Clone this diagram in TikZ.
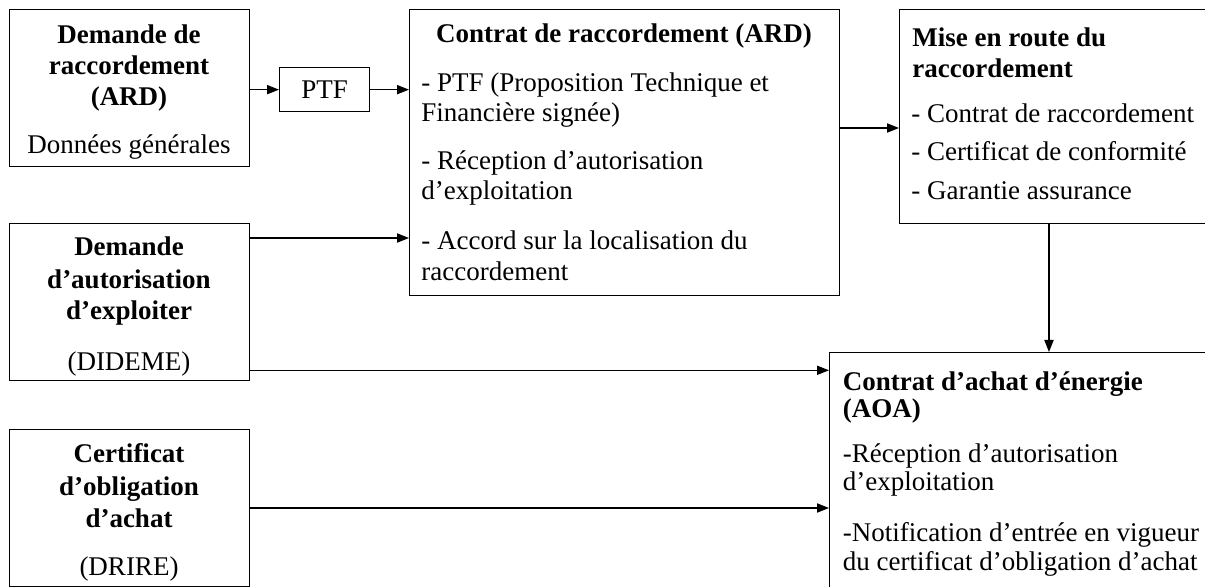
\documentclass[tikz,border=0pt]{standalone}
\usepackage{fontspec}
\setmainfont{Liberation Serif}
\usetikzlibrary{arrows.meta,calc}
\begin{document}
\begin{tikzpicture}[x=0.5pt,y=-0.5pt,
  box/.style={draw,line width=0.65pt,rectangle,inner sep=0pt,anchor=north west},
  txt/.style={inner sep=0pt,font=\fontsize{13.5pt}{14pt}\selectfont},
  ctxt/.style={txt,anchor=base},
  ltxt/.style={txt,anchor=base west},
  cbold/.style={ctxt,font=\fontsize{13.5pt}{14pt}\selectfont\bfseries},
  lbold/.style={ltxt,font=\fontsize{13.5pt}{14pt}\selectfont\bfseries},
  arr/.style={line width=0.65pt,-{Triangle[length=6pt,width=4.6pt]}}]
\useasboundingbox (0,0) rectangle (1205,587);
\fill[white] (0,0) rectangle (1205,587);
\clip (0,0) rectangle (1205,587);

% boxes
\node[box,minimum width=120pt,minimum height=78.5pt] (b1) at (9,9) {};
\node[box,minimum width=45pt,minimum height=22pt,font=\fontsize{13.5pt}{14pt}\selectfont] (ptf) at (279,67) {PTF};
\node[box,minimum width=215pt,minimum height=143pt] (b2) at (409,9) {};
\node[box,minimum width=158pt,minimum height=107pt] (b3) at (899,9) {};
\node[box,minimum width=120pt,minimum height=78.5pt] (b4) at (9,223) {};
\node[box,minimum width=193pt,minimum height=129pt] (b5) at (829,352) {};
\node[box,minimum width=120pt,minimum height=78.5pt] (b6) at (9,429) {};

% box 1 text
\node[cbold] (t1a) at (129,43.5) {Demande de};
\node[cbold] (t1b) at (129,75) {raccordement};
\node[cbold] (t1c) at (129,106) {(ARD)};
\node[ctxt] (t1d) at (129,154) {Données générales};

% box 2 text
\node[cbold] (t2a) at (624,43) {Contrat de raccordement (ARD)};
\node[ltxt] (t2b) at (421,92) {- PTF (Proposition Technique et};
\node[ltxt] (t2c) at (421,122) {Financière signée)};
\node[ltxt] (t2d) at (421,170) {- Réception d’autorisation};
\node[ltxt] (t2e) at (421,200) {d’exploitation};
\node[ltxt] (t2f) at (421,250) {- Accord sur la localisation du};
\node[ltxt] (t2g) at (421,281) {raccordement};

% box 3 text
\node[lbold] (t3a) at (912,46.5) {Mise en route du};
\node[lbold] (t3b) at (912,77.5) {raccordement};
\node[ltxt] (t3c) at (911,123) {- Contrat de raccordement};
\node[ltxt] (t3d) at (911,161) {- Certificat de conformité};
\node[ltxt] (t3e) at (911,199.5) {- Garantie assurance};

% box 4 text
\node[cbold] (t4a) at (129,256) {Demande};
\node[cbold] (t4b) at (129,289) {d’autorisation};
\node[cbold] (t4c) at (129,320) {d’exploiter};
\node[ctxt] (t4d) at (129,371) {(DIDEME)};

% box 5 text
\node[lbold] (t5a) at (842.5,391) {Contrat d’achat d’énergie};
\node[lbold] (t5b) at (842.5,418) {(AOA)};
\node[ltxt] (t5c) at (842.5,463) {-Réception d’autorisation};
\node[ltxt] (t5d) at (842.5,491) {d’exploitation};
\node[ltxt] (t5e) at (842.5,541) {-Notification d’entrée en vigueur};
\node[ltxt] (t5f) at (842.5,570) {du certificat d’obligation d’achat};

% box 6 text
\node[cbold] (t6a) at (129,463) {Certificat};
\node[cbold] (t6b) at (129,495) {d’obligation};
\node[cbold] (t6c) at (129,527) {d’achat};
\node[ctxt] (t6d) at (129,575) {(DRIRE)};

% connectors
\draw[arr] (b1.east |- ptf.west) -- (ptf.west);
\draw[arr] (ptf.east) -- (ptf.east -| b2.west);
\coordinate (s4) at ($(b4.north east)+(0,15)$);
\draw[arr] (s4) -- (s4 -| b2.west);
\coordinate (s2) at ($(b2.north east)+(0,119)$);
\draw[arr] (s2) -- (s2 -| b3.west);
\coordinate (d3) at ($(b3.south west)+(150,0)$);
\draw[arr] (d3) -- (d3 |- b5.north);
\coordinate (s4b) at ($(b4.south east)+(0,-11)$);
\draw[arr] (s4b) -- (s4b -| b5.west);
\coordinate (s6) at ($(b6.north east)+(0,79)$);
\draw[arr] (s6) -- (s6 -| b5.west);
\end{tikzpicture}
\end{document}
